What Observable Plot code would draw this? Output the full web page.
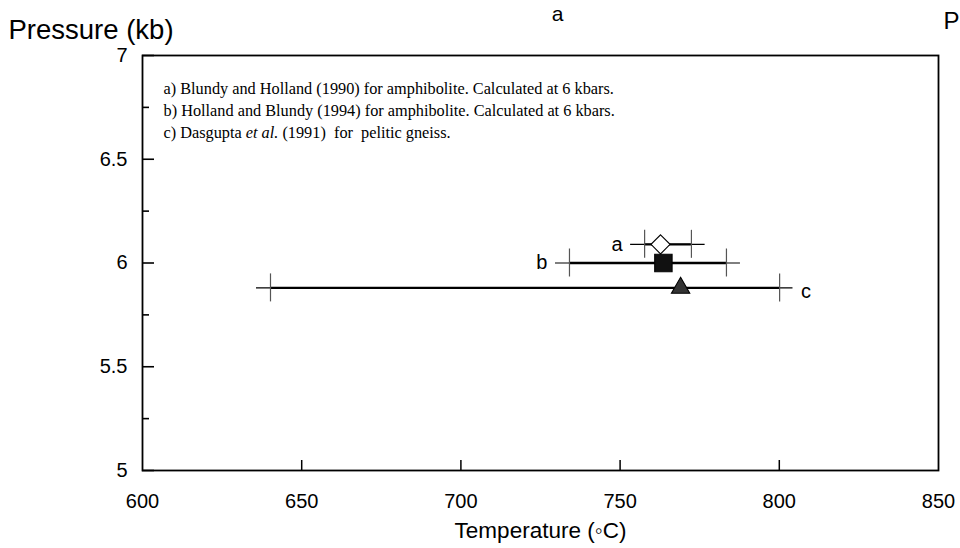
<!DOCTYPE html>
<html>
<head>
<meta charset="utf-8">
<script src="https://cdn.jsdelivr.net/npm/d3@7"></script>
<script src="https://cdn.jsdelivr.net/npm/@observablehq/plot@0.6"></script>
<style>
  html, body { margin: 0; padding: 0; background: #fff; }
  #chart { width: 960px; height: 548px; }
</style>
</head>
<body>
<div id="chart"></div>
<script>
// ---- data ----
const methods   = ["a", "b", "c"];
const pressure  = [6.09, 6.00, 5.88];          // kb
const tempMean  = [762.7, 763.6, 769.0];       // °C (marker)
const tempLow   = [757.7, 734.1, 640.2];       // error-bar caps
const tempHigh  = [772.4, 783.4, 800.1];
const lineLow   = [753.3, 729.7, 635.8];       // whisker line ends
const lineHigh  = [776.7, 787.8, 804.3];
const symbols   = ["diamond2", "square", "triangle"];
const fills     = ["white", "#111", "#333"];
const sizes     = [8.6, 9.8, 6.8];

const xTicks = [600, 650, 700, 750, 800, 850];
const xInnerTicks = [650, 700, 750, 800];
const yTicks = [5, 5.5, 6, 6.5, 7];
const yMinorTicks = [5.25, 5.75, 6.25, 6.75];

const legendLines = [
  "a) Blundy and Holland (1990) for amphibolite. Calculated at 6 kbars.",
  "b) Holland and Blundy (1994) for amphibolite. Calculated at 6 kbars.",
  "c) Dasgupta et al. (1991)  for  pelitic gneiss."
];
const xLabel = "Temperature (\u25E6C)";
const yLabel = "Pressure (kb)";
const panelLabel = "a";
const nextPanelLabel = "P";

// ---- table built from arrays ----
const rows = methods.map((m, i) => ({
  m, p: pressure[i], t: tempMean[i], lo: tempLow[i], hi: tempHigh[i],
  l1: lineLow[i], l2: lineHigh[i], sym: symbols[i], fill: fills[i], r: sizes[i]
}));
const caps = rows.flatMap(d => [{x: d.lo, p: d.p}, {x: d.hi, p: d.p}]);

const W = 960, H = 548, mL = 142, mR = 22, mT = 55, mB = 78;
const plotW = W - mL - mR, plotH = H - mT - mB;
const sans = "'Liberation Sans', Arial, Helvetica, sans-serif";

const chart = Plot.plot({
  width: W, height: H,
  marginLeft: mL, marginRight: mR, marginTop: mT, marginBottom: mB,
  x: {domain: [600, 850]},
  y: {domain: [5, 7]},
  r: {type: "identity"},
  style: {fontFamily: sans, fontSize: "20px", background: "#fff", color: "#000"},
  marks: [
    Plot.frame({stroke: "#000", strokeWidth: 1.8}),
    // tick labels
    Plot.axisX(xTicks, {tickSize: 0, tickPadding: 23, fontSize: 20, label: null, tickFormat: d => String(d)}),
    Plot.axisY(yTicks, {tickSize: 0, tickPadding: 15, fontSize: 20, label: null, tickFormat: d => String(d)}),
    // inward ticks
    Plot.tickX(xInnerTicks, {x: d => d, insetTop: plotH - 10, stroke: "#000", strokeWidth: 1.5}),
    Plot.tickY(yTicks, {y: d => d, insetRight: plotW - 12, stroke: "#000", strokeWidth: 1.6}),
    Plot.tickY(yMinorTicks, {y: d => d, insetRight: plotW - 7, stroke: "#000", strokeWidth: 1.6}),
    // error bars
    Plot.ruleY(rows, {x1: "l1", x2: "l2", y: "p", stroke: "#000", strokeWidth: 1.1}),
    Plot.ruleY(rows, {x1: "lo", x2: "hi", y: "p", stroke: "#000", strokeWidth: 2.4}),
    Plot.ruleX(caps, {x: "x", y1: "p", y2: "p", insetTop: -14, insetBottom: -14, stroke: "#555", strokeWidth: 1.2}),
    // markers
    Plot.dot(rows, {x: "t", y: "p", symbol: "sym", r: "r", fill: "fill", stroke: "#000", strokeWidth: 1.1}),
    // series labels
    Plot.text(rows.filter(d => d.m !== "c"), {x: "l1", y: "p", text: "m", textAnchor: "end", dx: -8, fontSize: 20}),
    Plot.text(rows.filter(d => d.m === "c"), {x: "l2", y: "p", text: "m", textAnchor: "start", dx: 8, dy: 4, fontSize: 20}),
    // legend (notes)
    Plot.text(legendLines, {frameAnchor: "top-left", text: d => d, dx: 21,
      textAnchor: "start", lineAnchor: "middle", fontFamily: "'Liberation Serif', 'Times New Roman', serif", fontSize: 16.3}),
    // axis titles
    Plot.text([xLabel], {frameAnchor: "bottom", text: d => d, dy: 60, lineAnchor: "middle", fontSize: 22.5}),
    Plot.text([yLabel], {frameAnchor: "top-left", text: d => d, dx: -134, dy: -25, textAnchor: "start", lineAnchor: "middle", fontSize: 27.5}),
    Plot.text([panelLabel], {frameAnchor: "top", text: d => d, dx: 17, dy: -41, lineAnchor: "middle", fontSize: 21}),
    Plot.text([nextPanelLabel], {frameAnchor: "top-right", text: d => d, dx: 5, dy: -34, textAnchor: "start", lineAnchor: "middle", fontSize: 24})
  ]
});

// place legend lines on separate rows and italicise "et al."
// (the mark's group already carries the dx offset)
const legendTop = [33, 55, 77];
d3.select(chart).selectAll("text").filter(function() {
  return legendLines.includes(this.textContent);
}).each(function() {
  const idx = legendLines.indexOf(this.textContent);
  const t = d3.select(this);
  t.attr("transform", null);
  t.attr("x", mL).attr("y", mT + legendTop[idx]).attr("dy", "0.32em");
  t.style("white-space", "pre");
  if (this.textContent.includes("et al.")) {
    const parts = this.textContent.split("et al.");
    t.text(null);
    t.append("tspan").text(parts[0]);
    t.append("tspan").attr("font-style", "italic").text("et al.");
    t.append("tspan").text(parts[1]);
  }
});

document.getElementById("chart").appendChild(chart);
</script>
</body>
</html>
